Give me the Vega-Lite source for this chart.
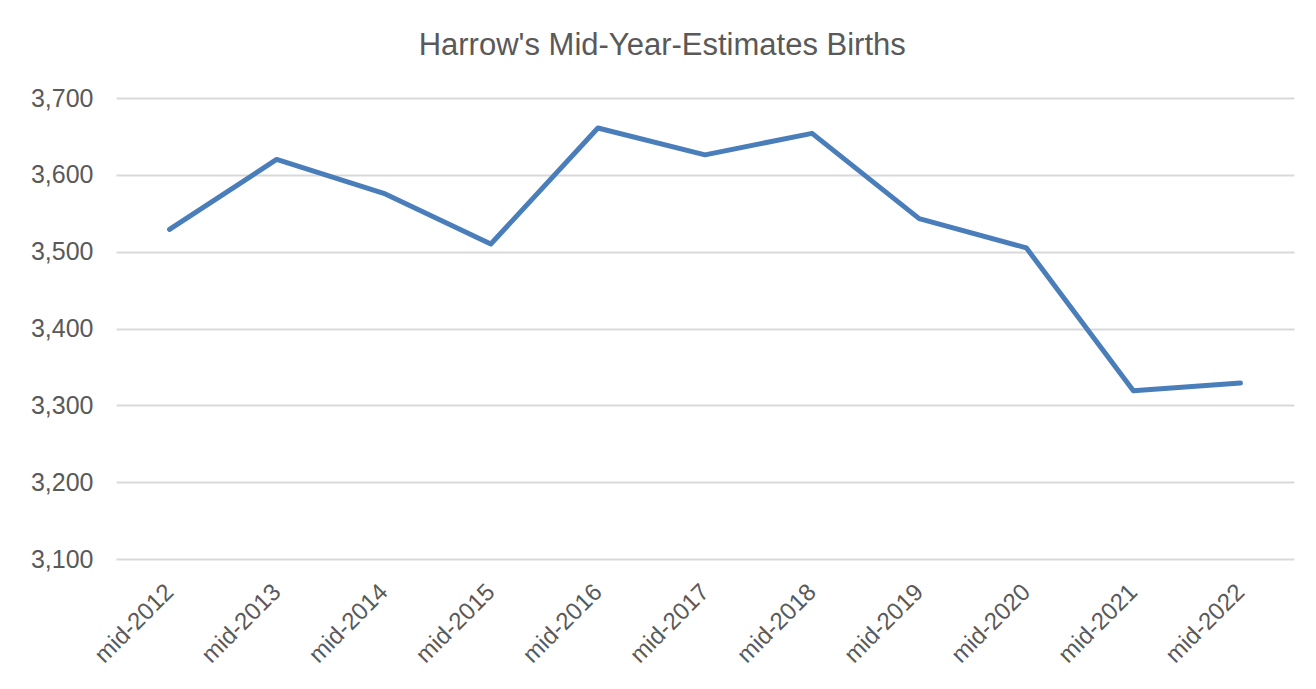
{
  "$schema": "https://vega.github.io/schema/vega-lite/v6.json",
  "autosize": "none",
  "width": 1178,
  "height": 461,
  "padding": {"left": 116, "top": 98, "right": 22, "bottom": 130},
  "background": "white",
  "title": {
    "text": "Harrow's Mid-Year-Estimates Births",
    "font": "Liberation Sans",
    "fontSize": 31,
    "fontWeight": "normal",
    "color": "#595959",
    "anchor": "middle",
    "frame": "bounds",
    "offset": 24
  },
  "data": {
    "values": [
      {"period": "mid-2012", "births": 3529},
      {"period": "mid-2013", "births": 3620},
      {"period": "mid-2014", "births": 3576},
      {"period": "mid-2015", "births": 3510},
      {"period": "mid-2016", "births": 3661},
      {"period": "mid-2017", "births": 3626},
      {"period": "mid-2018", "births": 3654},
      {"period": "mid-2019", "births": 3543},
      {"period": "mid-2020", "births": 3505},
      {"period": "mid-2021", "births": 3319},
      {"period": "mid-2022", "births": 3329}
    ]
  },
  "mark": {"type": "line", "color": "#4a7ebb", "strokeWidth": 5, "strokeCap": "round", "strokeJoin": "round"},
  "encoding": {
    "x": {
      "field": "period",
      "type": "ordinal",
      "sort": null,
      "title": null,
      "scale": {"paddingInner": 0, "paddingOuter": 0.5},
      "axis": {
        "labelAngle": -45,
        "labelAlign": "right",
        "labelBaseline": "middle",
        "labelFont": "Liberation Sans",
        "labelFontSize": 24,
        "labelColor": "#595959",
        "labelPadding": 29,
        "ticks": false,
        "domain": false,
        "grid": false
      }
    },
    "y": {
      "field": "births",
      "type": "quantitative",
      "title": null,
      "scale": {"domain": [3100, 3700], "nice": false, "zero": false},
      "axis": {
        "values": [3100, 3200, 3300, 3400, 3500, 3600, 3700],
        "format": ",d",
        "labelFont": "Liberation Sans",
        "labelFontSize": 25,
        "labelColor": "#595959",
        "labelPadding": 23,
        "ticks": false,
        "domain": false,
        "grid": true,
        "gridColor": "#d9d9d9",
        "gridWidth": 2
      }
    }
  },
  "config": {"view": {"stroke": null}}
}
